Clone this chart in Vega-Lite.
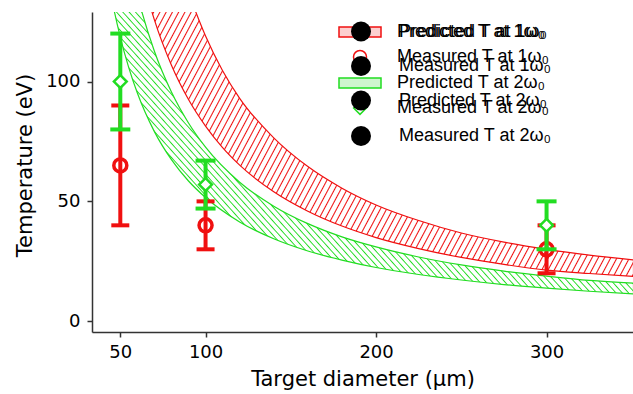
{
  "$schema": "https://vega.github.io/schema/vega-lite/v6.json",
  "width": 541,
  "height": 320,
  "autosize": {"type": "none"},
  "padding": {"left": 92, "top": 12, "right": 0, "bottom": 62},
  "background": "white",
  "config": {"view": {"stroke": null}, "font": "DejaVu Sans"},
  "datasets": {
    "bands": [
      {"band": "red", "d": 60, "lo": 151.7, "hi": 230},
      {"band": "red", "d": 70, "lo": 125.7, "hi": 189},
      {"band": "red", "d": 80, "lo": 106.8, "hi": 157},
      {"band": "red", "d": 90, "lo": 92.5, "hi": 137},
      {"band": "red", "d": 100, "lo": 81.4, "hi": 119},
      {"band": "red", "d": 110, "lo": 72.4, "hi": 104.5},
      {"band": "red", "d": 120, "lo": 65.1, "hi": 93},
      {"band": "red", "d": 140, "lo": 54.0, "hi": 76.5},
      {"band": "red", "d": 160, "lo": 45.9, "hi": 64.5},
      {"band": "red", "d": 180, "lo": 39.7, "hi": 55.5},
      {"band": "red", "d": 200, "lo": 34.9, "hi": 48.5},
      {"band": "red", "d": 225, "lo": 30.3, "hi": 42},
      {"band": "red", "d": 250, "lo": 26.6, "hi": 36.8},
      {"band": "red", "d": 275, "lo": 23.7, "hi": 33},
      {"band": "red", "d": 300, "lo": 21.3, "hi": 30},
      {"band": "red", "d": 325, "lo": 19.9, "hi": 27.6},
      {"band": "red", "d": 351, "lo": 18.7, "hi": 25.6},
      {"band": "green", "d": 40, "lo": 154.9, "hi": 224},
      {"band": "green", "d": 45, "lo": 134.5, "hi": 193.9},
      {"band": "green", "d": 50, "lo": 118.5, "hi": 170.3},
      {"band": "green", "d": 55, "lo": 105.7, "hi": 151.5},
      {"band": "green", "d": 60, "lo": 95.2, "hi": 136.1},
      {"band": "green", "d": 70, "lo": 79.1, "hi": 112.6},
      {"band": "green", "d": 80, "lo": 67.4, "hi": 95.6},
      {"band": "green", "d": 90, "lo": 58.5, "hi": 82.7},
      {"band": "green", "d": 100, "lo": 51.6, "hi": 72.6},
      {"band": "green", "d": 120, "lo": 41.4, "hi": 58.0},
      {"band": "green", "d": 140, "lo": 34.4, "hi": 48.0},
      {"band": "green", "d": 160, "lo": 29.3, "hi": 40.7},
      {"band": "green", "d": 180, "lo": 25.5, "hi": 35.2},
      {"band": "green", "d": 200, "lo": 22.4, "hi": 31.0},
      {"band": "green", "d": 225, "lo": 19.5, "hi": 26.8},
      {"band": "green", "d": 250, "lo": 17.2, "hi": 23.5},
      {"band": "green", "d": 275, "lo": 15.3, "hi": 20.9},
      {"band": "green", "d": 300, "lo": 13.8, "hi": 18.8},
      {"band": "green", "d": 325, "lo": 12.5, "hi": 17.0},
      {"band": "green", "d": 351, "lo": 11.4, "hi": 15.9}
    ],
    "measured": [
      {"series": "Measured T at 1ω₀", "d": 50, "T": 65, "lo": 40, "hi": 90},
      {"series": "Measured T at 1ω₀", "d": 100, "T": 40, "lo": 30, "hi": 50},
      {"series": "Measured T at 1ω₀", "d": 300, "T": 30, "lo": 20, "hi": 40},
      {"series": "Measured T at 2ω₀", "d": 50, "T": 100, "lo": 80, "hi": 120},
      {"series": "Measured T at 2ω₀", "d": 100, "T": 57, "lo": 47, "hi": 67},
      {"series": "Measured T at 2ω₀", "d": 300, "T": 40, "lo": 30, "hi": 50}
    ]
  },
  "layer": [
    {
      "data": {"name": "bands"},
      "transform": [{"filter": "datum.band == 'red'"}],
      "mark": {
        "type": "area", "clip": true, "interpolate": "monotone", "stroke": "#f01010", "strokeWidth": 1.2,
        "fill": {
          "gradient": "linear", "x1": 0, "y1": 0, "x2": 1.2171, "y2": 0.6598,
          "stops": [
            {"offset":0.176,"color":"#fff"},{"offset":0.1775,"color":"#f01010"},{"offset":0.179,"color":"#fff"},
            {"offset":0.184,"color":"#fff"},{"offset":0.1855,"color":"#f01010"},{"offset":0.187,"color":"#fff"},
            {"offset":0.192,"color":"#fff"},{"offset":0.1935,"color":"#f01010"},{"offset":0.195,"color":"#fff"},
            {"offset":0.200,"color":"#fff"},{"offset":0.2015,"color":"#f01010"},{"offset":0.203,"color":"#fff"},
            {"offset":0.208,"color":"#fff"},{"offset":0.2095,"color":"#f01010"},{"offset":0.211,"color":"#fff"},
            {"offset":0.216,"color":"#fff"},{"offset":0.2175,"color":"#f01010"},{"offset":0.219,"color":"#fff"},
            {"offset":0.224,"color":"#fff"},{"offset":0.2255,"color":"#f01010"},{"offset":0.227,"color":"#fff"},
            {"offset":0.232,"color":"#fff"},{"offset":0.2335,"color":"#f01010"},{"offset":0.235,"color":"#fff"},
            {"offset":0.240,"color":"#fff"},{"offset":0.2415,"color":"#f01010"},{"offset":0.243,"color":"#fff"},
            {"offset":0.248,"color":"#fff"},{"offset":0.2495,"color":"#f01010"},{"offset":0.251,"color":"#fff"},
            {"offset":0.256,"color":"#fff"},{"offset":0.2575,"color":"#f01010"},{"offset":0.259,"color":"#fff"},
            {"offset":0.264,"color":"#fff"},{"offset":0.2655,"color":"#f01010"},{"offset":0.267,"color":"#fff"},
            {"offset":0.272,"color":"#fff"},{"offset":0.2735,"color":"#f01010"},{"offset":0.275,"color":"#fff"},
            {"offset":0.280,"color":"#fff"},{"offset":0.2815,"color":"#f01010"},{"offset":0.283,"color":"#fff"},
            {"offset":0.288,"color":"#fff"},{"offset":0.2895,"color":"#f01010"},{"offset":0.291,"color":"#fff"},
            {"offset":0.296,"color":"#fff"},{"offset":0.2975,"color":"#f01010"},{"offset":0.299,"color":"#fff"},
            {"offset":0.304,"color":"#fff"},{"offset":0.3055,"color":"#f01010"},{"offset":0.307,"color":"#fff"},
            {"offset":0.312,"color":"#fff"},{"offset":0.3135,"color":"#f01010"},{"offset":0.315,"color":"#fff"},
            {"offset":0.320,"color":"#fff"},{"offset":0.3215,"color":"#f01010"},{"offset":0.323,"color":"#fff"},
            {"offset":0.328,"color":"#fff"},{"offset":0.3295,"color":"#f01010"},{"offset":0.331,"color":"#fff"},
            {"offset":0.336,"color":"#fff"},{"offset":0.3375,"color":"#f01010"},{"offset":0.339,"color":"#fff"},
            {"offset":0.344,"color":"#fff"},{"offset":0.3455,"color":"#f01010"},{"offset":0.347,"color":"#fff"},
            {"offset":0.352,"color":"#fff"},{"offset":0.3535,"color":"#f01010"},{"offset":0.355,"color":"#fff"},
            {"offset":0.360,"color":"#fff"},{"offset":0.3615,"color":"#f01010"},{"offset":0.363,"color":"#fff"},
            {"offset":0.368,"color":"#fff"},{"offset":0.3695,"color":"#f01010"},{"offset":0.371,"color":"#fff"},
            {"offset":0.376,"color":"#fff"},{"offset":0.3775,"color":"#f01010"},{"offset":0.379,"color":"#fff"},
            {"offset":0.384,"color":"#fff"},{"offset":0.3855,"color":"#f01010"},{"offset":0.387,"color":"#fff"},
            {"offset":0.392,"color":"#fff"},{"offset":0.3935,"color":"#f01010"},{"offset":0.395,"color":"#fff"},
            {"offset":0.400,"color":"#fff"},{"offset":0.4015,"color":"#f01010"},{"offset":0.403,"color":"#fff"},
            {"offset":0.408,"color":"#fff"},{"offset":0.4095,"color":"#f01010"},{"offset":0.411,"color":"#fff"},
            {"offset":0.416,"color":"#fff"},{"offset":0.4175,"color":"#f01010"},{"offset":0.419,"color":"#fff"},
            {"offset":0.424,"color":"#fff"},{"offset":0.4255,"color":"#f01010"},{"offset":0.427,"color":"#fff"},
            {"offset":0.432,"color":"#fff"},{"offset":0.4335,"color":"#f01010"},{"offset":0.435,"color":"#fff"},
            {"offset":0.440,"color":"#fff"},{"offset":0.4415,"color":"#f01010"},{"offset":0.443,"color":"#fff"},
            {"offset":0.448,"color":"#fff"},{"offset":0.4495,"color":"#f01010"},{"offset":0.451,"color":"#fff"},
            {"offset":0.456,"color":"#fff"},{"offset":0.4575,"color":"#f01010"},{"offset":0.459,"color":"#fff"},
            {"offset":0.464,"color":"#fff"},{"offset":0.4655,"color":"#f01010"},{"offset":0.467,"color":"#fff"},
            {"offset":0.472,"color":"#fff"},{"offset":0.4735,"color":"#f01010"},{"offset":0.475,"color":"#fff"},
            {"offset":0.480,"color":"#fff"},{"offset":0.4815,"color":"#f01010"},{"offset":0.483,"color":"#fff"},
            {"offset":0.488,"color":"#fff"},{"offset":0.4895,"color":"#f01010"},{"offset":0.491,"color":"#fff"},
            {"offset":0.496,"color":"#fff"},{"offset":0.4975,"color":"#f01010"},{"offset":0.499,"color":"#fff"},
            {"offset":0.504,"color":"#fff"},{"offset":0.5055,"color":"#f01010"},{"offset":0.507,"color":"#fff"},
            {"offset":0.512,"color":"#fff"},{"offset":0.5135,"color":"#f01010"},{"offset":0.515,"color":"#fff"},
            {"offset":0.520,"color":"#fff"},{"offset":0.5215,"color":"#f01010"},{"offset":0.523,"color":"#fff"},
            {"offset":0.528,"color":"#fff"},{"offset":0.5295,"color":"#f01010"},{"offset":0.531,"color":"#fff"},
            {"offset":0.536,"color":"#fff"},{"offset":0.5375,"color":"#f01010"},{"offset":0.539,"color":"#fff"},
            {"offset":0.544,"color":"#fff"},{"offset":0.5455,"color":"#f01010"},{"offset":0.547,"color":"#fff"},
            {"offset":0.552,"color":"#fff"},{"offset":0.5535,"color":"#f01010"},{"offset":0.555,"color":"#fff"},
            {"offset":0.560,"color":"#fff"},{"offset":0.5615,"color":"#f01010"},{"offset":0.563,"color":"#fff"},
            {"offset":0.568,"color":"#fff"},{"offset":0.5695,"color":"#f01010"},{"offset":0.571,"color":"#fff"},
            {"offset":0.576,"color":"#fff"},{"offset":0.5775,"color":"#f01010"},{"offset":0.579,"color":"#fff"},
            {"offset":0.584,"color":"#fff"},{"offset":0.5855,"color":"#f01010"},{"offset":0.587,"color":"#fff"},
            {"offset":0.592,"color":"#fff"},{"offset":0.5935,"color":"#f01010"},{"offset":0.595,"color":"#fff"},
            {"offset":0.600,"color":"#fff"},{"offset":0.6015,"color":"#f01010"},{"offset":0.603,"color":"#fff"},
            {"offset":0.608,"color":"#fff"},{"offset":0.6095,"color":"#f01010"},{"offset":0.611,"color":"#fff"},
            {"offset":0.616,"color":"#fff"},{"offset":0.6175,"color":"#f01010"},{"offset":0.619,"color":"#fff"},
            {"offset":0.624,"color":"#fff"},{"offset":0.6255,"color":"#f01010"},{"offset":0.627,"color":"#fff"},
            {"offset":0.632,"color":"#fff"},{"offset":0.6335,"color":"#f01010"},{"offset":0.635,"color":"#fff"},
            {"offset":0.640,"color":"#fff"},{"offset":0.6415,"color":"#f01010"},{"offset":0.643,"color":"#fff"},
            {"offset":0.648,"color":"#fff"},{"offset":0.6495,"color":"#f01010"},{"offset":0.651,"color":"#fff"},
            {"offset":0.656,"color":"#fff"},{"offset":0.6575,"color":"#f01010"},{"offset":0.659,"color":"#fff"},
            {"offset":0.664,"color":"#fff"},{"offset":0.6655,"color":"#f01010"},{"offset":0.667,"color":"#fff"},
            {"offset":0.672,"color":"#fff"},{"offset":0.6735,"color":"#f01010"},{"offset":0.675,"color":"#fff"},
            {"offset":0.680,"color":"#fff"},{"offset":0.6815,"color":"#f01010"},{"offset":0.683,"color":"#fff"},
            {"offset":0.688,"color":"#fff"},{"offset":0.6895,"color":"#f01010"},{"offset":0.691,"color":"#fff"},
            {"offset":0.696,"color":"#fff"},{"offset":0.6975,"color":"#f01010"},{"offset":0.699,"color":"#fff"},
            {"offset":0.704,"color":"#fff"},{"offset":0.7055,"color":"#f01010"},{"offset":0.707,"color":"#fff"},
            {"offset":0.712,"color":"#fff"},{"offset":0.7135,"color":"#f01010"},{"offset":0.715,"color":"#fff"},
            {"offset":0.720,"color":"#fff"},{"offset":0.7215,"color":"#f01010"},{"offset":0.723,"color":"#fff"},
            {"offset":0.728,"color":"#fff"},{"offset":0.7295,"color":"#f01010"},{"offset":0.731,"color":"#fff"},
            {"offset":0.736,"color":"#fff"},{"offset":0.7375,"color":"#f01010"},{"offset":0.739,"color":"#fff"},
            {"offset":0.744,"color":"#fff"},{"offset":0.7455,"color":"#f01010"},{"offset":0.747,"color":"#fff"},
            {"offset":0.752,"color":"#fff"},{"offset":0.7535,"color":"#f01010"},{"offset":0.755,"color":"#fff"},
            {"offset":0.760,"color":"#fff"},{"offset":0.7615,"color":"#f01010"},{"offset":0.763,"color":"#fff"},
            {"offset":0.768,"color":"#fff"},{"offset":0.7695,"color":"#f01010"},{"offset":0.771,"color":"#fff"},
            {"offset":0.776,"color":"#fff"},{"offset":0.7775,"color":"#f01010"},{"offset":0.779,"color":"#fff"},
            {"offset":0.784,"color":"#fff"},{"offset":0.7855,"color":"#f01010"},{"offset":0.787,"color":"#fff"},
            {"offset":0.792,"color":"#fff"},{"offset":0.7935,"color":"#f01010"},{"offset":0.795,"color":"#fff"},
            {"offset":0.800,"color":"#fff"},{"offset":0.8015,"color":"#f01010"},{"offset":0.803,"color":"#fff"},
            {"offset":0.808,"color":"#fff"},{"offset":0.8095,"color":"#f01010"},{"offset":0.811,"color":"#fff"},
            {"offset":0.816,"color":"#fff"},{"offset":0.8175,"color":"#f01010"},{"offset":0.819,"color":"#fff"},
            {"offset":0.824,"color":"#fff"},{"offset":0.8255,"color":"#f01010"},{"offset":0.827,"color":"#fff"},
            {"offset":0.832,"color":"#fff"},{"offset":0.8335,"color":"#f01010"},{"offset":0.835,"color":"#fff"},
            {"offset":0.840,"color":"#fff"},{"offset":0.8415,"color":"#f01010"},{"offset":0.843,"color":"#fff"},
            {"offset":0.848,"color":"#fff"},{"offset":0.8495,"color":"#f01010"},{"offset":0.851,"color":"#fff"},
            {"offset":0.856,"color":"#fff"},{"offset":0.8575,"color":"#f01010"},{"offset":0.859,"color":"#fff"},
            {"offset":0.864,"color":"#fff"},{"offset":0.8655,"color":"#f01010"},{"offset":0.867,"color":"#fff"},
            {"offset":0.872,"color":"#fff"},{"offset":0.8735,"color":"#f01010"},{"offset":0.875,"color":"#fff"},
            {"offset":0.880,"color":"#fff"},{"offset":0.8815,"color":"#f01010"},{"offset":0.883,"color":"#fff"},
            {"offset":0.888,"color":"#fff"},{"offset":0.8895,"color":"#f01010"},{"offset":0.891,"color":"#fff"},
            {"offset":0.896,"color":"#fff"},{"offset":0.8975,"color":"#f01010"},{"offset":0.899,"color":"#fff"},
            {"offset":0.904,"color":"#fff"},{"offset":0.9055,"color":"#f01010"},{"offset":0.907,"color":"#fff"},
            {"offset":0.912,"color":"#fff"},{"offset":0.9135,"color":"#f01010"},{"offset":0.915,"color":"#fff"},
            {"offset":0.920,"color":"#fff"},{"offset":0.9215,"color":"#f01010"},{"offset":0.923,"color":"#fff"},
            {"offset":0.928,"color":"#fff"},{"offset":0.9295,"color":"#f01010"},{"offset":0.931,"color":"#fff"},
            {"offset":0.936,"color":"#fff"},{"offset":0.9375,"color":"#f01010"},{"offset":0.939,"color":"#fff"},
            {"offset":0.944,"color":"#fff"},{"offset":0.9455,"color":"#f01010"},{"offset":0.947,"color":"#fff"},
            {"offset":0.952,"color":"#fff"},{"offset":0.9535,"color":"#f01010"},{"offset":0.955,"color":"#fff"},
            {"offset":0.960,"color":"#fff"},{"offset":0.9615,"color":"#f01010"},{"offset":0.963,"color":"#fff"},
            {"offset":0.968,"color":"#fff"},{"offset":0.9695,"color":"#f01010"},{"offset":0.971,"color":"#fff"},
            {"offset":0.976,"color":"#fff"},{"offset":0.9775,"color":"#f01010"},{"offset":0.979,"color":"#fff"},
            {"offset":0.984,"color":"#fff"},{"offset":0.9855,"color":"#f01010"},{"offset":0.987,"color":"#fff"}
          ]
        }
      },
      "encoding": {
        "x": {
          "field": "d", "type": "quantitative",
          "scale": {"domain": [33.4, 350.7], "nice": false, "zero": false},
          "axis": {
            "values": [50, 100, 200, 300], "title": "Target diameter (μm)",
            "grid": false, "domainColor": "#333333", "domainWidth": 1.5,
            "tickColor": "#333333", "tickWidth": 1.5, "tickSize": 5,
            "labelFont": "DejaVu Sans", "labelFontSize": 18, "labelColor": "black", "labelPadding": 6,
            "titleFont": "DejaVu Sans", "titleFontSize": 21, "titleFontWeight": "normal", "titleColor": "black", "titlePadding": 7
          }
        },
        "y": {
          "field": "hi", "type": "quantitative",
          "scale": {"domain": [-4.5, 129], "nice": false, "zero": false},
          "axis": {
            "values": [0, 50, 100], "title": "Temperature (eV)",
            "grid": false, "domainColor": "#333333", "domainWidth": 1.5,
            "tickColor": "#333333", "tickWidth": 1.5, "tickSize": 5,
            "labelFont": "DejaVu Sans", "labelFontSize": 18, "labelColor": "black", "labelPadding": 7,
            "titleFont": "DejaVu Sans", "titleFontSize": 21, "titleFontWeight": "normal", "titleColor": "black", "titlePadding": 10,
            "titleY": 153
          }
        },
        "y2": {"field": "lo"}
      }
    },
    {
      "data": {"name": "bands"},
      "transform": [{"filter": "datum.band == 'green'"}],
      "mark": {
        "type": "area", "clip": true, "interpolate": "monotone", "stroke": "#22dd22", "strokeWidth": 1.2,
        "fill": {
          "gradient": "linear", "x1": 0, "y1": 1, "x2": 0.6822, "y2": 0.4098,
          "stops": [
            {"offset":0.28,"color":"#fff"},{"offset":0.282,"color":"#22dd22"},{"offset":0.284,"color":"#fff"},
            {"offset":0.29,"color":"#fff"},{"offset":0.292,"color":"#22dd22"},{"offset":0.294,"color":"#fff"},
            {"offset":0.30,"color":"#fff"},{"offset":0.302,"color":"#22dd22"},{"offset":0.304,"color":"#fff"},
            {"offset":0.31,"color":"#fff"},{"offset":0.312,"color":"#22dd22"},{"offset":0.314,"color":"#fff"},
            {"offset":0.32,"color":"#fff"},{"offset":0.322,"color":"#22dd22"},{"offset":0.324,"color":"#fff"},
            {"offset":0.33,"color":"#fff"},{"offset":0.332,"color":"#22dd22"},{"offset":0.334,"color":"#fff"},
            {"offset":0.34,"color":"#fff"},{"offset":0.342,"color":"#22dd22"},{"offset":0.344,"color":"#fff"},
            {"offset":0.35,"color":"#fff"},{"offset":0.352,"color":"#22dd22"},{"offset":0.354,"color":"#fff"},
            {"offset":0.36,"color":"#fff"},{"offset":0.362,"color":"#22dd22"},{"offset":0.364,"color":"#fff"},
            {"offset":0.37,"color":"#fff"},{"offset":0.372,"color":"#22dd22"},{"offset":0.374,"color":"#fff"},
            {"offset":0.38,"color":"#fff"},{"offset":0.382,"color":"#22dd22"},{"offset":0.384,"color":"#fff"},
            {"offset":0.39,"color":"#fff"},{"offset":0.392,"color":"#22dd22"},{"offset":0.394,"color":"#fff"},
            {"offset":0.40,"color":"#fff"},{"offset":0.402,"color":"#22dd22"},{"offset":0.404,"color":"#fff"},
            {"offset":0.41,"color":"#fff"},{"offset":0.412,"color":"#22dd22"},{"offset":0.414,"color":"#fff"},
            {"offset":0.42,"color":"#fff"},{"offset":0.422,"color":"#22dd22"},{"offset":0.424,"color":"#fff"},
            {"offset":0.43,"color":"#fff"},{"offset":0.432,"color":"#22dd22"},{"offset":0.434,"color":"#fff"},
            {"offset":0.44,"color":"#fff"},{"offset":0.442,"color":"#22dd22"},{"offset":0.444,"color":"#fff"},
            {"offset":0.45,"color":"#fff"},{"offset":0.452,"color":"#22dd22"},{"offset":0.454,"color":"#fff"},
            {"offset":0.46,"color":"#fff"},{"offset":0.462,"color":"#22dd22"},{"offset":0.464,"color":"#fff"},
            {"offset":0.47,"color":"#fff"},{"offset":0.472,"color":"#22dd22"},{"offset":0.474,"color":"#fff"},
            {"offset":0.48,"color":"#fff"},{"offset":0.482,"color":"#22dd22"},{"offset":0.484,"color":"#fff"},
            {"offset":0.49,"color":"#fff"},{"offset":0.492,"color":"#22dd22"},{"offset":0.494,"color":"#fff"},
            {"offset":0.50,"color":"#fff"},{"offset":0.502,"color":"#22dd22"},{"offset":0.504,"color":"#fff"},
            {"offset":0.51,"color":"#fff"},{"offset":0.512,"color":"#22dd22"},{"offset":0.514,"color":"#fff"},
            {"offset":0.52,"color":"#fff"},{"offset":0.522,"color":"#22dd22"},{"offset":0.524,"color":"#fff"},
            {"offset":0.53,"color":"#fff"},{"offset":0.532,"color":"#22dd22"},{"offset":0.534,"color":"#fff"},
            {"offset":0.54,"color":"#fff"},{"offset":0.542,"color":"#22dd22"},{"offset":0.544,"color":"#fff"},
            {"offset":0.55,"color":"#fff"},{"offset":0.552,"color":"#22dd22"},{"offset":0.554,"color":"#fff"},
            {"offset":0.56,"color":"#fff"},{"offset":0.562,"color":"#22dd22"},{"offset":0.564,"color":"#fff"},
            {"offset":0.57,"color":"#fff"},{"offset":0.572,"color":"#22dd22"},{"offset":0.574,"color":"#fff"},
            {"offset":0.58,"color":"#fff"},{"offset":0.582,"color":"#22dd22"},{"offset":0.584,"color":"#fff"},
            {"offset":0.59,"color":"#fff"},{"offset":0.592,"color":"#22dd22"},{"offset":0.594,"color":"#fff"},
            {"offset":0.60,"color":"#fff"},{"offset":0.602,"color":"#22dd22"},{"offset":0.604,"color":"#fff"},
            {"offset":0.61,"color":"#fff"},{"offset":0.612,"color":"#22dd22"},{"offset":0.614,"color":"#fff"},
            {"offset":0.62,"color":"#fff"},{"offset":0.622,"color":"#22dd22"},{"offset":0.624,"color":"#fff"},
            {"offset":0.63,"color":"#fff"},{"offset":0.632,"color":"#22dd22"},{"offset":0.634,"color":"#fff"},
            {"offset":0.64,"color":"#fff"},{"offset":0.642,"color":"#22dd22"},{"offset":0.644,"color":"#fff"},
            {"offset":0.65,"color":"#fff"},{"offset":0.652,"color":"#22dd22"},{"offset":0.654,"color":"#fff"},
            {"offset":0.66,"color":"#fff"},{"offset":0.662,"color":"#22dd22"},{"offset":0.664,"color":"#fff"},
            {"offset":0.67,"color":"#fff"},{"offset":0.672,"color":"#22dd22"},{"offset":0.674,"color":"#fff"},
            {"offset":0.68,"color":"#fff"},{"offset":0.682,"color":"#22dd22"},{"offset":0.684,"color":"#fff"},
            {"offset":0.69,"color":"#fff"},{"offset":0.692,"color":"#22dd22"},{"offset":0.694,"color":"#fff"},
            {"offset":0.70,"color":"#fff"},{"offset":0.702,"color":"#22dd22"},{"offset":0.704,"color":"#fff"},
            {"offset":0.71,"color":"#fff"},{"offset":0.712,"color":"#22dd22"},{"offset":0.714,"color":"#fff"},
            {"offset":0.72,"color":"#fff"},{"offset":0.722,"color":"#22dd22"},{"offset":0.724,"color":"#fff"},
            {"offset":0.73,"color":"#fff"},{"offset":0.732,"color":"#22dd22"},{"offset":0.734,"color":"#fff"},
            {"offset":0.74,"color":"#fff"},{"offset":0.742,"color":"#22dd22"},{"offset":0.744,"color":"#fff"},
            {"offset":0.75,"color":"#fff"},{"offset":0.752,"color":"#22dd22"},{"offset":0.754,"color":"#fff"},
            {"offset":0.76,"color":"#fff"},{"offset":0.762,"color":"#22dd22"},{"offset":0.764,"color":"#fff"},
            {"offset":0.77,"color":"#fff"},{"offset":0.772,"color":"#22dd22"},{"offset":0.774,"color":"#fff"},
            {"offset":0.78,"color":"#fff"},{"offset":0.782,"color":"#22dd22"},{"offset":0.784,"color":"#fff"},
            {"offset":0.79,"color":"#fff"},{"offset":0.792,"color":"#22dd22"},{"offset":0.794,"color":"#fff"},
            {"offset":0.80,"color":"#fff"},{"offset":0.802,"color":"#22dd22"},{"offset":0.804,"color":"#fff"},
            {"offset":0.81,"color":"#fff"},{"offset":0.812,"color":"#22dd22"},{"offset":0.814,"color":"#fff"},
            {"offset":0.82,"color":"#fff"},{"offset":0.822,"color":"#22dd22"},{"offset":0.824,"color":"#fff"},
            {"offset":0.83,"color":"#fff"},{"offset":0.832,"color":"#22dd22"},{"offset":0.834,"color":"#fff"},
            {"offset":0.84,"color":"#fff"},{"offset":0.842,"color":"#22dd22"},{"offset":0.844,"color":"#fff"},
            {"offset":0.85,"color":"#fff"},{"offset":0.852,"color":"#22dd22"},{"offset":0.854,"color":"#fff"},
            {"offset":0.86,"color":"#fff"},{"offset":0.862,"color":"#22dd22"},{"offset":0.864,"color":"#fff"},
            {"offset":0.87,"color":"#fff"},{"offset":0.872,"color":"#22dd22"},{"offset":0.874,"color":"#fff"}
          ]
        }
      },
      "encoding": {
        "x": {"field": "d", "type": "quantitative"},
        "y": {"field": "hi", "type": "quantitative"},
        "y2": {"field": "lo"}
      }
    },
    {
      "data": {"name": "measured"},
      "transform": [{"filter": "indexof(datum.series, '1ω') > 0"}],
      "mark": {"type": "rule", "color": "#f01010", "strokeWidth": 4},
      "encoding": {
        "x": {"field": "d", "type": "quantitative"},
        "y": {"field": "lo", "type": "quantitative"},
        "y2": {"field": "hi"}
      }
    },
    {
      "data": {"name": "measured"},
      "transform": [{"filter": "indexof(datum.series, '1ω') > 0"}, {"fold": ["lo", "hi"], "as": ["end", "val"]}],
      "mark": {"type": "tick", "orient": "horizontal", "color": "#f01010", "size": 18, "thickness": 4, "opacity": 1},
      "encoding": {
        "x": {"field": "d", "type": "quantitative"},
        "y": {"field": "val", "type": "quantitative"}
      }
    },
    {
      "data": {"name": "measured"},
      "transform": [{"filter": "indexof(datum.series, '1ω') > 0"}],
      "mark": {"type": "point", "size": 400, "opacity": 1, "fillOpacity": 1, "strokeOpacity": 1},
      "encoding": {
        "x": {"field": "d", "type": "quantitative"},
        "y": {"field": "T", "type": "quantitative"},
        "fill": {
          "field": "series", "type": "nominal",
          "scale": {
            "domain": ["Predicted T at 1ω₀", "Measured T at 1ω₀", "Predicted T at 2ω₀", "Measured T at 2ω₀"],
            "range": ["#fccfcf", "transparent", "#cff5cf", "#ffffff"]
          },
          "legend": {
            "orient": "none", "legendX": 257, "legendY": 9, "title": null,
            "labelFont": "Liberation Sans", "labelFontSize": 18, "labelColor": "black",
            "labelOffset": 26, "symbolSize": 400, "rowPadding": 5, "labelLimit": 300, "symbolOpacity": 1
          }
        },
        "stroke": {
          "field": "series", "type": "nominal",
          "scale": {
            "domain": ["Predicted T at 1ω₀", "Measured T at 1ω₀", "Predicted T at 2ω₀", "Measured T at 2ω₀"],
            "range": ["#f01010", "#f01010", "#22dd22", "#22dd22"]
          },
          "legend": {
            "orient": "none", "legendX": 257, "legendY": 9, "title": null,
            "labelFont": "Liberation Sans", "labelFontSize": 18, "labelColor": "black",
            "labelOffset": 26, "symbolSize": 400, "rowPadding": 5, "labelLimit": 300, "symbolOpacity": 1
          }
        },
        "strokeWidth": {
          "field": "series", "type": "nominal",
          "scale": {
            "type": "ordinal",
            "domain": ["Predicted T at 1ω₀", "Measured T at 1ω₀", "Predicted T at 2ω₀", "Measured T at 2ω₀"],
            "range": [1, 3.5, 1, 4]
          },
          "legend": {
            "orient": "none", "legendX": 257, "legendY": 9, "title": null,
            "labelFont": "Liberation Sans", "labelFontSize": 18, "labelColor": "black",
            "labelOffset": 26, "symbolSize": 400, "rowPadding": 5, "labelLimit": 300, "symbolOpacity": 1
          }
        },
        "shape": {
          "field": "series", "type": "nominal",
          "scale": {
            "domain": ["Predicted T at 1ω₀", "Measured T at 1ω₀", "Predicted T at 2ω₀", "Measured T at 2ω₀"],
            "range": ["M-2.1,-0.5H2.1V0.5H-2.1Z", "M0.65,0A0.65,0.65,0,1,1,-0.65,0A0.65,0.65,0,1,1,0.65,0Z", "M-2.1,-0.5H2.1V0.5H-2.1Z", "M0,-0.64L0.64,0L0,0.64L-0.64,0Z"]
          },
          "legend": {
            "orient": "none", "legendX": 257, "legendY": 9, "title": null,
            "labelFont": "Liberation Sans", "labelFontSize": 18, "labelColor": "black",
            "labelOffset": 26, "symbolSize": 400, "rowPadding": 5, "labelLimit": 300, "symbolOpacity": 1
          }
        }
      }
    },
    {
      "data": {"name": "measured"},
      "transform": [{"filter": "indexof(datum.series, '2ω') > 0"}],
      "mark": {"type": "rule", "color": "#22dd22", "strokeWidth": 4},
      "encoding": {
        "x": {"field": "d", "type": "quantitative"},
        "y": {"field": "lo", "type": "quantitative"},
        "y2": {"field": "hi"}
      }
    },
    {
      "data": {"name": "measured"},
      "transform": [{"filter": "indexof(datum.series, '2ω') > 0"}, {"fold": ["lo", "hi"], "as": ["end", "val"]}],
      "mark": {"type": "tick", "orient": "horizontal", "color": "#22dd22", "size": 20, "thickness": 4, "opacity": 1},
      "encoding": {
        "x": {"field": "d", "type": "quantitative"},
        "y": {"field": "val", "type": "quantitative"}
      }
    },
    {
      "data": {"name": "measured"},
      "transform": [{"filter": "indexof(datum.series, '2ω') > 0"}],
      "mark": {"type": "point", "size": 400, "opacity": 1, "fillOpacity": 1, "strokeOpacity": 1},
      "encoding": {
        "x": {"field": "d", "type": "quantitative"},
        "y": {"field": "T", "type": "quantitative"},
        "fill": {"field": "series", "type": "nominal"},
        "stroke": {"field": "series", "type": "nominal"},
        "strokeWidth": {"field": "series", "type": "nominal"},
        "shape": {"field": "series", "type": "nominal"}
      }
    }
  ]
}
